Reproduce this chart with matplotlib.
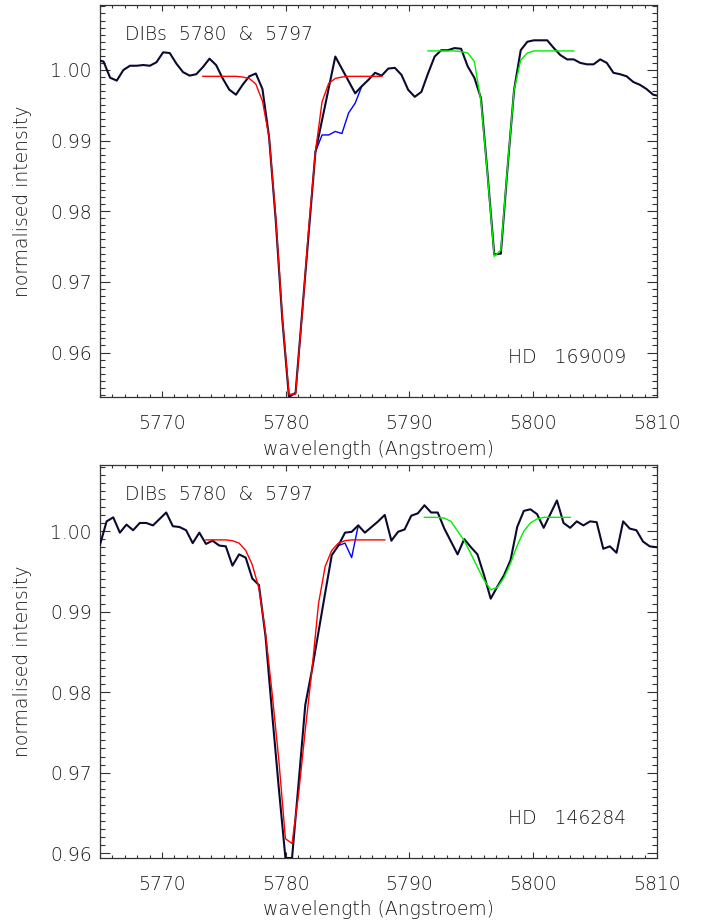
"""
DIB 5780 & 5797 profiles for HD 169009 and HD 146284, with Gaussian fits
"""
import numpy as np
import matplotlib
matplotlib.use("Agg")
import matplotlib.pyplot as plt
from matplotlib.ticker import MultipleLocator

# ---- spectrum grids (pixel sampling of each spectrum) ----
WL0_TOP, WL0_BOT, STEP = 5764.75, 5765.0, 0.535

# HD 169009: observed spectrum (black); nan = pixel left out of the black trace
flux_top = [
    1.0014, 1.0012, 0.9989, 0.9985, 1.0000, 1.0006, 1.0006, 1.0007, 1.0006, 1.0011,
    1.0025, 1.0024, 1.0009, 0.9997, 0.9992, 0.9994, 1.0004, 1.0016, 1.0007, 0.9988,
    0.9972, 0.9965, 0.9979, 0.9991, 0.9995, 0.9973, 0.9905, 0.9788, 0.9647, 0.9537,
    0.9543, 0.9657, 0.9771, 0.9884, np.nan, np.nan, 1.0019, np.nan, np.nan, 0.9967,
    0.9977, 0.9986, 0.9996, 0.9992, 1.0002, 1.0003, 0.9993, 0.9972, 0.9962, 0.9969,
    0.9995, 1.0019, 1.0028, 1.0028, 1.0031, 1.0030, 1.0005, 0.9989, 0.9960, 0.9852,
    0.9739, 0.9740, 0.9860, 0.9972, 1.0028, 1.0040, 1.0042, 1.0042, 1.0042, 1.0031,
    1.0021, 1.0015, 1.0015, 1.0010, 1.0008, 1.0008, 1.0015, 1.0010, 0.9996, 0.9994,
    0.9991, 0.9983, 0.9979, 0.9973, 0.9965, 0.9963,
]
# corrected spectrum (blue), where it differs from the black one
blue_top_start = 33
blue_top = [0.9884, 0.9908, 0.9908, 0.9913, 0.9910, 0.9939, 0.9953, 0.9977]
# Gaussian fits
red_top_start = 16
red_top = [
    0.9991, 0.9991, 0.9991, 0.9991, 0.9991, 0.9991, 0.9990, 0.9988, 0.9980, 0.9956,
    0.9905, 0.9792, 0.9650, 0.9541, 0.9541, 0.9655, 0.9778, 0.9884, 0.9955, 0.9981,
    0.9988, 0.9990, 0.9991, 0.9991, 0.9991, 0.9991, 0.9991, 0.9991,
]
green_top_start = 50
green_top = [
    1.0027, 1.0027, 1.0027, 1.0027, 1.0027, 1.0026, 1.0024, 1.0012, 0.9955, 0.9850,
    0.9736, 0.9745, 0.9862, 0.9972, 1.0014, 1.0024, 1.0027, 1.0027, 1.0027, 1.0027,
    1.0027, 1.0027, 1.0027,
]

# HD 146284
flux_bot = [
    0.9983, 1.0012, 1.0017, 0.9998, 1.0008, 1.0001, 1.0010, 1.0010, 1.0007, 1.0015,
    1.0023, 1.0006, 1.0005, 1.0001, 0.9985, 0.9998, 0.9984, 0.9988, 0.9982, 0.9981,
    0.9957, 0.9971, 0.9967, 0.9941, 0.9933, 0.9869, 0.9773, 0.9681, 0.9594, 0.9594,
    0.9688, 0.9784, 0.9827, 0.9875, 0.9923, 0.9970, 0.9982, 0.9998, 0.9999, 1.0007,
    0.9998, 1.0005, 1.0012, 1.0020, 0.9988, 0.9999, 1.0002, 1.0019, 1.0022, 1.0032,
    1.0023, 1.0023, 1.0003, 0.9987, 0.9971, 0.9990, 0.9980, 0.9971, 0.9945, 0.9916,
    0.9931, 0.9945, 0.9964, 1.0005, 1.0025, 1.0027, 1.0021, 1.0004, 1.0021, 1.0038,
    1.0010, 1.0004, 1.0012, 1.0007, 1.0012, 1.0011, 0.9978, 0.9981, 0.9973, 1.0012,
    1.0003, 1.0001, 0.9987, 0.9981, 0.9980,
]
blue_bot_start = 36
blue_bot = [0.9982, 0.9985, 0.9967, 1.0007]
red_bot_start = 16
red_bot = [
    0.9989, 0.9989, 0.9989, 0.9989, 0.9988, 0.9985, 0.9976, 0.9958, 0.9929, 0.9873,
    0.9798, 0.9716, 0.9618, 0.9612, 0.9674, 0.9753, 0.9827, 0.9910, 0.9956, 0.9976,
    0.9985, 0.9988, 0.9989, 0.9989, 0.9989, 0.9989, 0.9989, 0.9989,
]
green_bot_start = 49
green_bot = [
    1.0017, 1.0017, 1.0017, 1.0016, 1.0012, 1.0000, 0.9988, 0.9972, 0.9955, 0.9939,
    0.9927, 0.9930, 0.9942, 0.9960, 0.9982, 1.0000, 1.0010, 1.0015, 1.0017, 1.0017,
    1.0017, 1.0017, 1.0017,
]

panels = [
    dict(wl0=WL0_TOP, flux=flux_top, blue=(blue_top_start, blue_top),
         red=(red_top_start, red_top), green=(green_top_start, green_top),
         ylim=(0.9537, 1.0092), star="HD   169009",
         rect=[100 / 714, 1 - 397 / 924, 557 / 714, 392 / 924], xlab_y=-0.133),
    dict(wl0=WL0_BOT, flux=flux_bot, blue=(blue_bot_start, blue_bot),
         red=(red_bot_start, red_bot), green=(green_bot_start, green_bot),
         ylim=(0.9594, 1.0082), star="HD   146284",
         rect=[100 / 714, 1 - 858 / 924, 557 / 714, 393 / 924], xlab_y=-0.13),
]

TXT = dict(fontsize=13.5, fontweight="light", color="#1a1a1a")


def draw_panel(fig, p):
    ax = fig.add_axes(p["rect"])
    flux = np.array(p["flux"])
    wl = p["wl0"] + STEP * np.arange(len(flux))
    good = ~np.isnan(flux)

    def seg(start, vals):
        return wl[start:start + len(vals)], vals

    ax.plot(*seg(*p["blue"]), color="blue", lw=1.0, zorder=2)
    ax.plot(wl[good], flux[good], color="#0a0a30", lw=1.5, zorder=3)
    ax.plot(*seg(*p["red"]), color="red", lw=1.0, zorder=4)
    ax.plot(*seg(*p["green"]), color="#00ee00", lw=1.0, zorder=4)

    ax.set_xlim(5765, 5810)
    ax.set_ylim(*p["ylim"])
    ax.xaxis.set_major_locator(MultipleLocator(10))
    ax.xaxis.set_minor_locator(MultipleLocator(1))
    ax.yaxis.set_major_locator(MultipleLocator(0.01))
    ax.yaxis.set_minor_locator(MultipleLocator(0.001))
    ax.yaxis.set_major_formatter(matplotlib.ticker.FormatStrFormatter("%.2f"))

    ax.tick_params(which="both", direction="in", top=True, right=True,
                   color="#333333", width=0.8, labelsize=13.5, labelcolor="#1a1a1a")
    ax.tick_params(axis="x", which="major", length=4.5, pad=12)
    ax.tick_params(axis="x", which="minor", length=2.2)
    ax.tick_params(axis="y", which="major", length=7.2, pad=6)
    ax.tick_params(axis="y", which="minor", length=3.6)
    for lab in ax.get_xticklabels() + ax.get_yticklabels():
        lab.set_fontweight("light")
    for sp in ax.spines.values():
        sp.set_color("#333333")
        sp.set_linewidth(0.9)

    ax.set_xlabel("wavelength (Angstroem)", va="center", **TXT)
    ax.xaxis.set_label_coords(0.5, p["xlab_y"])
    ax.set_ylabel("normalised intensity", va="center", **TXT)
    ax.yaxis.set_label_coords(-0.14, 0.5)

    ax.text(0.045, 0.925, "DIBs  5780  &  5797", transform=ax.transAxes,
            ha="left", va="center", **TXT)
    ax.text(0.7325, 0.101, p["star"], transform=ax.transAxes,
            ha="left", va="center", **TXT)
    return ax


def main():
    fig = plt.figure(figsize=(7.14, 9.24), dpi=100)
    for p in panels:
        draw_panel(fig, p)
    fig.savefig("out.png", dpi=100)
    plt.close(fig)


if __name__ == "__main__":
    main()
